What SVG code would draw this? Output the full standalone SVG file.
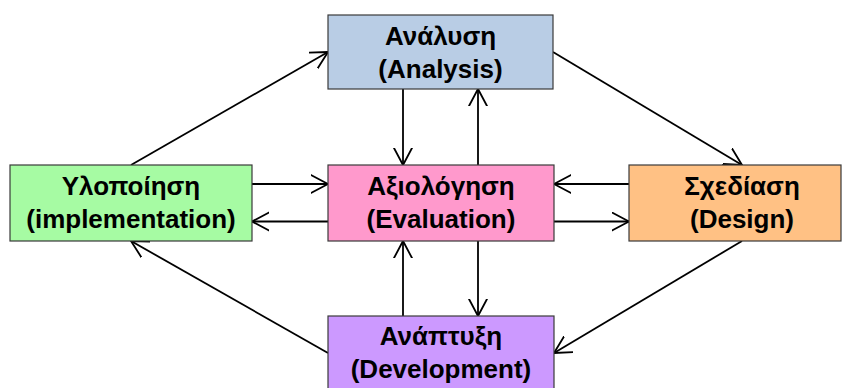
<svg xmlns="http://www.w3.org/2000/svg" width="843" height="388" viewBox="0 0 843 388">
<defs>
<style>
.box{stroke:#3a3a3a;stroke-width:1.2}
.t{font-family:"Liberation Sans",Arial,sans-serif;font-weight:bold;font-size:26px;fill:#000;text-anchor:middle}
.c{stroke:#000;stroke-width:1.8;fill:none}
</style>
<marker id="ah" markerUnits="userSpaceOnUse" markerWidth="22" markerHeight="22" refX="17" refY="10" orient="auto" viewBox="0 0 22 22">
<path d="M0,1 L17,10 L0,19" fill="none" stroke="#000" stroke-width="1.8" stroke-linejoin="round" stroke-linecap="round"/>
</marker>
</defs>
<rect width="843" height="388" fill="#fff"/>
<g id="connectors">
<path class="c" d="M131,165 L328,52" marker-end="url(#ah)"/>
<path class="c" d="M553,52 L742,165" marker-end="url(#ah)"/>
<path class="c" d="M742,241 L554,353" marker-end="url(#ah)"/>
<path class="c" d="M328,353 L131,241" marker-end="url(#ah)"/>
<path class="c" d="M403,89 L403,165" marker-end="url(#ah)"/>
<path class="c" d="M478,165 L478,89" marker-end="url(#ah)"/>
<path class="c" d="M478,241 L478,316" marker-end="url(#ah)"/>
<path class="c" d="M403,316 L403,241" marker-end="url(#ah)"/>
<path class="c" d="M252,184 L328,184" marker-end="url(#ah)"/>
<path class="c" d="M328,221.5 L252,221.5" marker-end="url(#ah)"/>
<path class="c" d="M629,184 L554,184" marker-end="url(#ah)"/>
<path class="c" d="M554,221.5 L629,221.5" marker-end="url(#ah)"/>
</g>
<g id="analysis">
<rect class="box" x="328" y="15" width="225" height="74" fill="#B9CDE5"/>
<text class="t" x="440.5" y="44.5">Ανάλυση</text>
<text class="t" x="440.5" y="77.5">(Analysis)</text>
</g>
<g id="implementation">
<rect class="box" x="10" y="165" width="242" height="76" fill="#A6FBA3"/>
<text class="t" x="131" y="194.5">Υλοποίηση</text>
<text class="t" x="131" y="227.5">(implementation)</text>
</g>
<g id="evaluation">
<rect class="box" x="328" y="165" width="226" height="76" fill="#FF99CC"/>
<text class="t" x="441" y="194.5">Αξιολόγηση</text>
<text class="t" x="441" y="227.5">(Evaluation)</text>
</g>
<g id="design">
<rect class="box" x="629" y="165" width="212" height="76" fill="#FFC184"/>
<text class="t" x="742" y="194.5">Σχεδίαση</text>
<text class="t" x="742" y="227.5">(Design)</text>
</g>
<g id="development">
<rect class="box" x="328" y="316" width="226" height="76" fill="#CC99FF"/>
<text class="t" x="441" y="345">Ανάπτυξη</text>
<text class="t" x="441" y="378">(Development)</text>
</g>
</svg>
